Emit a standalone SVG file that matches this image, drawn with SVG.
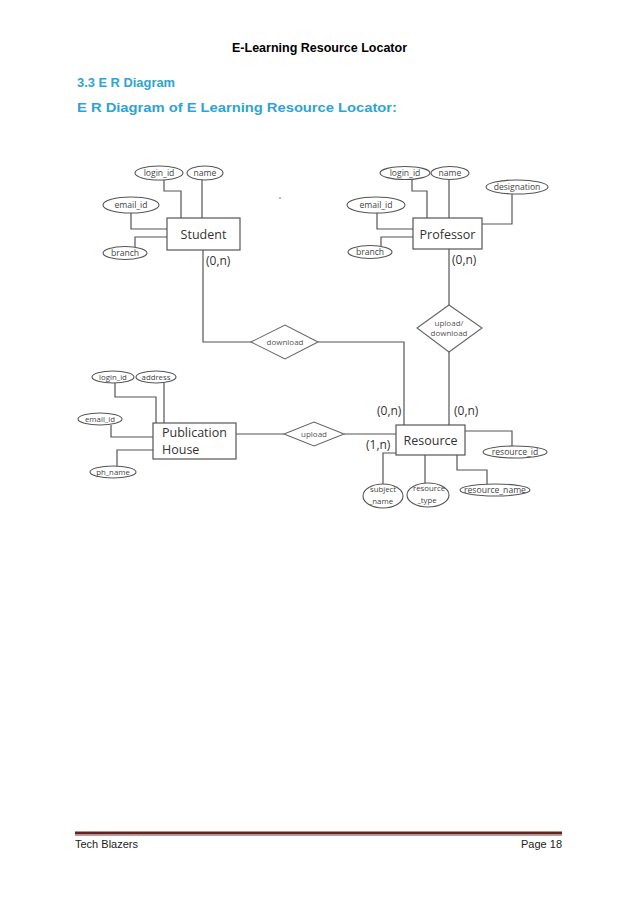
<svg xmlns="http://www.w3.org/2000/svg" width="638" height="903" viewBox="0 0 638 903">
<style>
.bg{fill:#fff}
.ent{fill:#fff;stroke:#555;stroke-width:1.2}
.att{fill:#fff;stroke:#555;stroke-width:1.1}
.rel{fill:#fff;stroke:#666;stroke-width:1.1}
.ln{fill:none;stroke:#555;stroke-width:1.2}
.et{font-family:"Open Sans","Liberation Sans",sans-serif;font-size:12.5px;fill:#333;text-anchor:middle}
.at{font-family:"Open Sans","Liberation Sans",sans-serif;font-size:8.6px;fill:#444;text-anchor:middle}
.sm{font-size:7.8px}
.rt{font-family:"Open Sans","Liberation Sans",sans-serif;font-size:8px;fill:#555;text-anchor:middle}
.card{font-family:"Open Sans","Liberation Sans",sans-serif;font-size:12px;fill:#333}
.h1{font-family:"Liberation Sans",sans-serif;font-weight:bold;font-size:13px;fill:#000}
.h2{font-family:"Liberation Sans",sans-serif;font-weight:bold;font-size:12.5px;fill:#2ea3d5}
.ft{font-family:"Liberation Sans",sans-serif;font-size:11px;fill:#222}
</style>
<rect class="bg" x="0" y="0" width="638" height="903"/>
<text class="h1" x="232" y="52" textLength="175" lengthAdjust="spacingAndGlyphs">E-Learning Resource Locator</text>
<text class="h2" x="77" y="87" textLength="98" lengthAdjust="spacingAndGlyphs">3.3 E R Diagram</text>
<text class="h2" x="77" y="112" textLength="320" lengthAdjust="spacingAndGlyphs">E R Diagram of E Learning Resource Locator:</text>

<g id="connectors">
<path class="ln" d="M164,180 V191 H181 V218"/>
<path class="ln" d="M202,180 V218"/>
<path class="ln" d="M131,213 V229 H167"/>
<path class="ln" d="M135,247 V237 H167"/>
<path class="ln" d="M412,179 V191 H427 V218"/>
<path class="ln" d="M449,179 V218"/>
<path class="ln" d="M512,193 V224 H482"/>
<path class="ln" d="M377,213 V229 H413"/>
<path class="ln" d="M381,246 V237 H413"/>
<path class="ln" d="M203,250 V342 H251"/>
<path class="ln" d="M318,342 H404 V425"/>
<path class="ln" d="M449,249 V305"/>
<path class="ln" d="M449,352 V425"/>
<path class="ln" d="M115,383 V397 H156 V423"/>
<path class="ln" d="M164,383 V423"/>
<path class="ln" d="M111,425 V437 H153"/>
<path class="ln" d="M117,466 V450 H153"/>
<path class="ln" d="M236,434 H284"/>
<path class="ln" d="M344,434 H396"/>
<path class="ln" d="M465,431 H512 V446"/>
<path class="ln" d="M396,453 H383 V484"/>
<path class="ln" d="M425,455 V483"/>
<path class="ln" d="M457,455 V470 H487 V484"/>
</g>

<g id="student">
<rect class="ent" x="167" y="218" width="73" height="32"/>
<text class="et" x="203.5" y="239">Student</text>
</g>
<g id="student_login_id"><ellipse class="att" cx="159" cy="173" rx="24" ry="7"/><text class="at" x="159" y="176">login_id</text></g>
<g id="student_name"><ellipse class="att" cx="205" cy="173" rx="18" ry="7"/><text class="at" x="205" y="176">name</text></g>
<g id="student_email_id"><ellipse class="att" cx="131" cy="205" rx="28" ry="8"/><text class="at" x="131" y="208">email_id</text></g>
<g id="student_branch"><ellipse class="att" cx="125" cy="253" rx="22" ry="6.5"/><text class="at" x="125" y="256">branch</text></g>
<text class="card" x="206" y="265">(0,n)</text>

<g id="professor">
<rect class="ent" x="413" y="218" width="69" height="31"/>
<text class="et" x="447.5" y="238.5">Professor</text>
</g>
<g id="professor_login_id"><ellipse class="att" cx="405" cy="173" rx="25" ry="6.5"/><text class="at" x="405" y="176">login_id</text></g>
<g id="professor_name"><ellipse class="att" cx="450" cy="173" rx="19" ry="6.5"/><text class="at" x="450" y="176">name</text></g>
<g id="professor_designation"><ellipse class="att" cx="517" cy="187" rx="31" ry="7"/><text class="at" x="517" y="190">designation</text></g>
<g id="professor_email_id"><ellipse class="att" cx="376" cy="205" rx="29" ry="8"/><text class="at" x="376" y="208">email_id</text></g>
<g id="professor_branch"><ellipse class="att" cx="370" cy="252" rx="22" ry="6.5"/><text class="at" x="370" y="255">branch</text></g>
<text class="card" x="452" y="264">(0,n)</text>

<circle cx="280" cy="198" r="0.9" fill="#999"/>

<g id="download">
<polygon class="rel" points="251,342 285,325 318,342 285,359"/>
<text class="rt" x="285" y="345">download</text>
</g>
<g id="upload_download">
<polygon class="rel" points="417,328 449,305 482,328 449,352"/>
<text class="rt" x="449" y="326">upload/</text>
<text class="rt" x="449" y="336">download</text>
</g>

<g id="publication_house">
<rect class="ent" x="153" y="423" width="83" height="36"/>
<text class="et" x="162" y="437" style="text-anchor:start">Publication</text>
<text class="et" x="162" y="454" style="text-anchor:start">House</text>
</g>
<g id="ph_login_id"><ellipse class="att" cx="113" cy="377" rx="21" ry="6"/><text class="at sm" x="113" y="380">login_id</text></g>
<g id="ph_address"><ellipse class="att" cx="156" cy="377" rx="20" ry="6"/><text class="at sm" x="156" y="380">address</text></g>
<g id="ph_email_id"><ellipse class="att" cx="100" cy="419" rx="22" ry="6"/><text class="at sm" x="100" y="422">email_id</text></g>
<g id="ph_ph_name"><ellipse class="att" cx="113" cy="472" rx="23" ry="6"/><text class="at sm" x="113" y="475">ph_name</text></g>

<g id="upload">
<polygon class="rel" points="284,434 314,422 344,434 314,446"/>
<text class="rt" x="314" y="437">upload</text>
</g>

<g id="resource">
<rect class="ent" x="396" y="425" width="69" height="30"/>
<text class="et" x="430.5" y="444.5">Resource</text>
</g>
<text class="card" x="377" y="415">(0,n)</text>
<text class="card" x="454" y="415">(0,n)</text>
<text class="card" x="366" y="449">(1,n)</text>
<g id="resource_id"><ellipse class="att" cx="515" cy="452" rx="32" ry="6"/><text class="at" x="515" y="455">resource_id</text></g>
<g id="subject_name"><ellipse class="att" cx="383" cy="496" rx="20" ry="12"/><text class="at sm" x="383" y="492">subject</text><text class="at sm" x="381" y="504">_name</text></g>
<g id="resource_type"><ellipse class="att" cx="428" cy="495" rx="21" ry="12"/><text class="at sm" x="429" y="491">resource</text><text class="at sm" x="427" y="503">_type</text></g>
<g id="resource_name"><ellipse class="att" cx="495" cy="490" rx="35" ry="6"/><text class="at" x="495" y="493">resource_name</text></g>

<line x1="75" y1="833" x2="562" y2="833" stroke="#622423" stroke-width="3"/>
<line x1="75" y1="835.5" x2="562" y2="835.5" stroke="#c99" stroke-width="1"/>
<text class="ft" x="75" y="848">Tech Blazers</text>
<text class="ft" x="562" y="848" text-anchor="end">Page 18</text>
</svg>
